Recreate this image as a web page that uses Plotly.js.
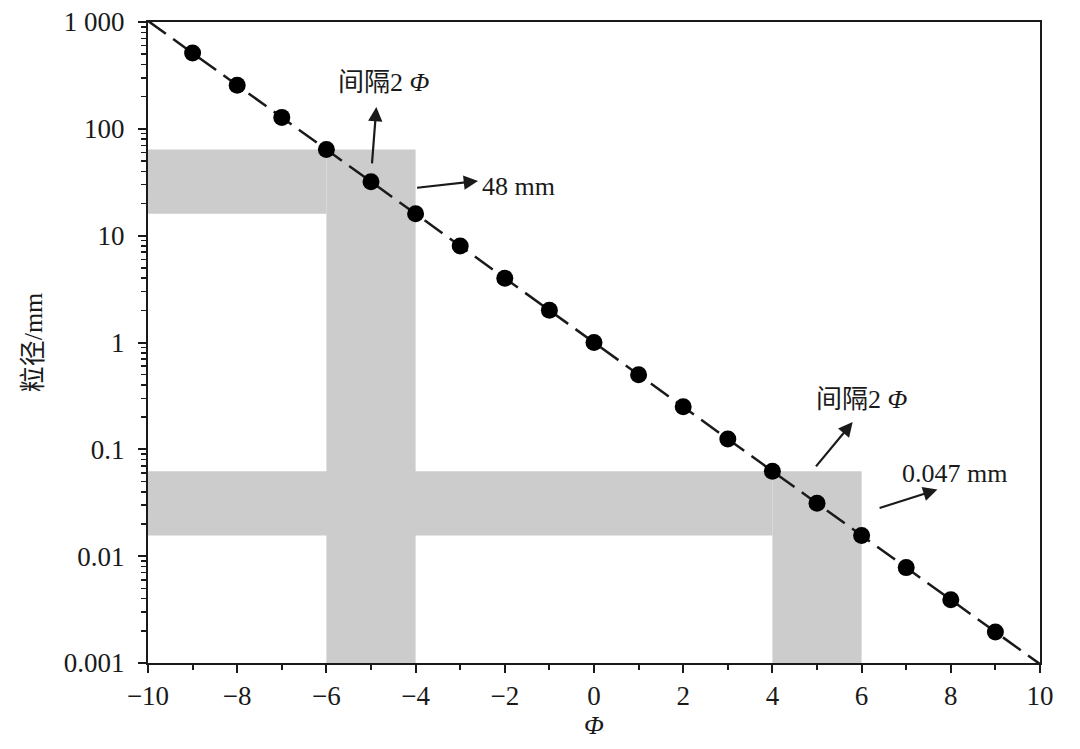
<!DOCTYPE html>
<html>
<head>
<meta charset="utf-8">
<script src="https://cdn.plot.ly/plotly-3.0.1.min.js"></script>
<style>html,body{margin:0;padding:0;background:#fff;}#chart{width:1080px;height:749px;}</style>
</head>
<body>
<div id="chart"></div>
<script>
// Φ values of the plotted points and their grain sizes (mm)
const phi = [-9,-8,-7,-6,-5,-4,-3,-2,-1,0,1,2,3,4,5,6,7,8,9];
const sizeMM = [512,256,128,64,32,16,8,4,2,1,0.5,0.25,0.125,0.0625,0.03125,0.015625,0.0078125,0.00390625,0.001953125];
// dashed reference line end points
const lineX = [-10, 10];
const lineY = [1024, 0.0009765625];
// shaded bands
const bandX0 = [-6, -10, -10, 4];
const bandX1 = [-4, -6, 4, 6];
const bandY0 = [0.001, 16, 0.015625, 0.001];
const bandY1 = [64, 64, 0.0625, 0.0625];
// tick labels
const yTickVals = [0.001, 0.01, 0.1, 1, 10, 100, 1000];
const yTickText = ['0.001', '0.01', '0.1', '1', '10', '100', '1 000'];
const xTickVals = [-10,-8,-6,-4,-2,0,2,4,6,8,10];

const serif = 'Liberation Serif, Noto Sans CJK SC, serif';
const ink = '#1a1a1a';

const traces = [];
for (let i = 0; i < bandX0.length; i++) {
  traces.push({
    x: [bandX0[i], bandX1[i], bandX1[i], bandX0[i], bandX0[i]],
    y: [bandY0[i], bandY0[i], bandY1[i], bandY1[i], bandY0[i]],
    mode: 'lines', fill: 'toself', fillcolor: '#cccccc',
    line: {width: 0, color: '#cccccc'}, hoverinfo: 'skip', showlegend: false
  });
}
traces.push({
  x: lineX, y: lineY, mode: 'lines',
  line: {color: ink, width: 2.5, dash: '22px,9px'},
  hoverinfo: 'skip', showlegend: false
});
traces.push({
  x: phi, y: sizeMM, mode: 'markers',
  marker: {color: '#000', size: 17},
  showlegend: false
});

const lg = Math.log10;
const arrowStyle = {showarrow: true, arrowhead: 2, arrowsize: 1.3, arrowwidth: 2.2, arrowcolor: ink, text: '', axref: 'x', ayref: 'y', xref: 'x', yref: 'y'};
const annFont = {family: serif, size: 26, color: ink};
const annotations = [
  Object.assign({}, arrowStyle, {x: -4.88, y: lg(160), ax: -4.98, ay: lg(46)}),
  Object.assign({}, arrowStyle, {x: -2.6, y: lg(32.5), ax: -4.0, ay: lg(28)}),
  Object.assign({}, arrowStyle, {x: 5.8, y: lg(0.18), ax: 4.95, ay: lg(0.067)}),
  Object.assign({}, arrowStyle, {x: 7.7, y: lg(0.042), ax: 6.37, ay: lg(0.028)}),
  {x: -4.7, y: lg(270), xref: 'x', yref: 'y', showarrow: false, text: '间隔2 <i>Φ</i>', font: annFont},
  {x: -2.55, y: lg(29), xref: 'x', yref: 'y', showarrow: false, xanchor: 'left', text: '48 mm', font: annFont},
  {x: 6.0, y: lg(0.29), xref: 'x', yref: 'y', showarrow: false, text: '间隔2 <i>Φ</i>', font: annFont},
  {x: 6.85, y: lg(0.06), xref: 'x', yref: 'y', showarrow: false, xanchor: 'left', text: '0.047 mm', font: annFont}
];

const layout = {
  width: 1080, height: 749,
  margin: {l: 148, r: 40, t: 22, b: 86},
  paper_bgcolor: '#fff', plot_bgcolor: '#fff',
  font: {family: serif, size: 27, color: ink},
  xaxis: {
    range: [-10, 10], tickmode: 'array', tickvals: xTickVals,
    ticks: 'outside', ticklen: 8, tickwidth: 2, tickcolor: ink,
    showline: true, linewidth: 2, linecolor: ink, mirror: true,
    showgrid: false, zeroline: false,
    minor: {tickmode: 'linear', tick0: -9, dtick: 2, ticks: 'outside', ticklen: 5, tickwidth: 2, tickcolor: ink, showgrid: false},
    tickfont: {family: serif, size: 27, color: ink},
    title: {text: '<i>Φ</i>', font: {family: serif, size: 26, color: ink}, standoff: 0}
  },
  yaxis: {
    type: 'log', range: [-3, 3], tickmode: 'array', tickvals: yTickVals, ticktext: yTickText,
    ticks: 'outside', ticklen: 8, tickwidth: 2, tickcolor: ink, ticklabelstandoff: 8,
    showline: true, linewidth: 2, linecolor: ink, mirror: true,
    showgrid: false, zeroline: false,
    minor: {tickmode: 'linear', dtick: 'D1', ticks: 'outside', ticklen: 5, tickwidth: 1.5, tickcolor: ink, showgrid: false},
    tickfont: {family: serif, size: 27, color: ink},
    title: {text: '粒径/mm', font: {family: serif, size: 26, color: ink}, standoff: 14}
  },
  annotations: annotations,
  showlegend: false
};

Plotly.newPlot('chart', traces, layout, {displayModeBar: false, staticPlot: true});
</script>
</body>
</html>
